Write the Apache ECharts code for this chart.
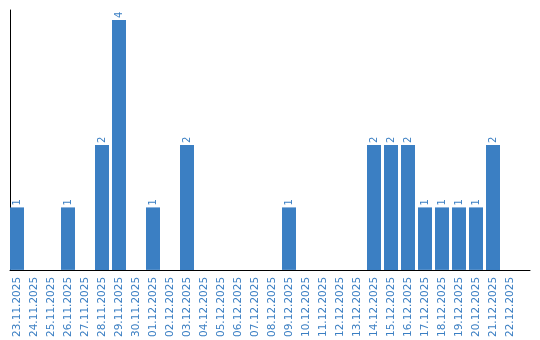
<!DOCTYPE html>
<html><head><meta charset="utf-8">
<script src="https://cdn.jsdelivr.net/npm/echarts@6/dist/echarts.min.js"></script>
<style>html,body{margin:0;padding:0;background:#fff}#c{width:540px;height:340px}</style>
</head><body><div id="c"></div>
<script>
const categories = ["23.11.2025","24.11.2025","25.11.2025","26.11.2025","27.11.2025","28.11.2025","29.11.2025","30.11.2025","01.12.2025","02.12.2025","03.12.2025","04.12.2025","05.12.2025","06.12.2025","07.12.2025","08.12.2025","09.12.2025","10.12.2025","11.12.2025","12.12.2025","13.12.2025","14.12.2025","15.12.2025","16.12.2025","17.12.2025","18.12.2025","19.12.2025","20.12.2025","21.12.2025","22.12.2025"];
const values = [1,0,0,1,0,2,4,0,1,0,2,0,0,0,0,0,1,0,0,0,0,2,2,2,1,1,1,1,2,0];
const blue = '#3b7fc3';
const chart = echarts.init(document.getElementById('c'), null, {renderer:'canvas'});
chart.setOption({
  animation:false,
  grid:[{left:8.5, top:10, width:510, height:260},{left:10, top:10, width:520, height:260}],
  xAxis:[
    {gridIndex:0, type:'category', data:categories, boundaryGap:true,
     axisLine:{show:false}, axisTick:{show:false},
     axisLabel:{rotate:90, interval:0, color:blue, fontFamily:'DejaVu Sans', fontSize:10.5, margin:7}},
    {gridIndex:1, type:'value', min:0, max:1, axisLine:{show:true, lineStyle:{color:'#000', width:1}},
     axisTick:{show:false}, axisLabel:{show:false}, splitLine:{show:false}}
  ],
  yAxis:[
    {gridIndex:0, type:'value', min:0, max:4.16, axisLine:{show:false}, axisTick:{show:false}, axisLabel:{show:false}, splitLine:{show:false}},
    {gridIndex:1, type:'value', min:0, max:1, axisLine:{show:true, lineStyle:{color:'#000', width:1}}, axisTick:{show:false}, axisLabel:{show:false}, splitLine:{show:false}}
  ],
  series:[{
    type:'bar', xAxisIndex:0, yAxisIndex:0, data:values, barWidth:14,
    itemStyle:{color:blue},
    label:{show:true, position:'top', rotate:90, align:'left', verticalAlign:'middle', distance:2,
      color:blue, fontFamily:'DejaVu Sans', fontSize:10,
      formatter:p=>p.value?String(p.value):''}
  }]
});
</script></body></html>
